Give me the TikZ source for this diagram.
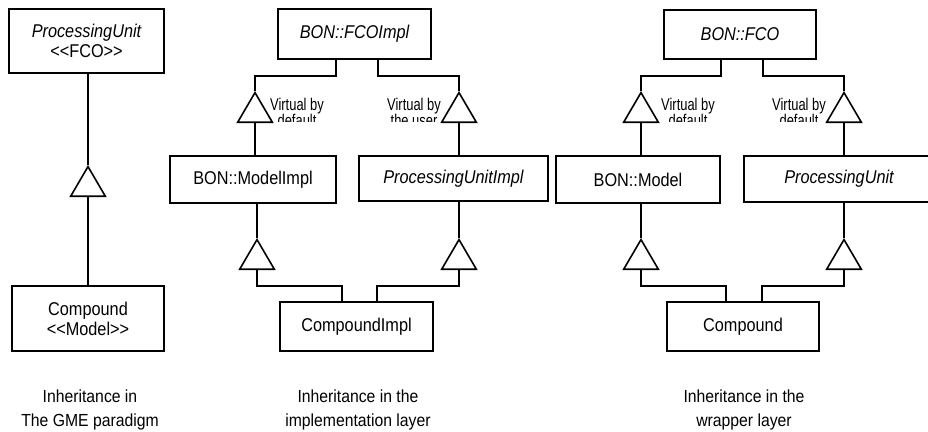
\documentclass[tikz,border=0pt]{standalone}
\usepackage{fontspec}
\setmainfont{Liberation Sans}[FakeStretch=0.88]
\newfontfamily\labfont{Liberation Sans}[FakeStretch=0.9]
\newfontfamily\virtfont{Liberation Sans}[FakeStretch=0.76]
\usetikzlibrary{arrows.meta}
\begin{document}
\begin{tikzpicture}[x=1pt,y=-1pt,line width=1.6pt,
  box/.style={draw, inner sep=0pt, align=center, font=\fontsize{18.5}{20}\selectfont},
  gen/.style={-{Triangle[open,length=32pt,width=37pt]}},
  virt/.style={align=center, inner sep=0pt, font=\virtfont\fontsize{17}{16}\selectfont},
  capt/.style={align=center, inner sep=0pt, font=\labfont\fontsize{17.5}{24}\selectfont}]
\useasboundingbox (0,0) rectangle (928,431);
\clip (0,0) rectangle (928,431);

% boxes
\node[box, minimum width=155pt, minimum height=64pt] (p1) at (86.5,41) {{\itshape ProcessingUnit}\\<{}<FCO>{}>};
\node[box, minimum width=152pt, minimum height=65pt] (c1) at (88,318.5) {Compound\\<{}<Model>{}>};
\node[box, minimum width=153pt, minimum height=50pt] (fi) at (354.5,34) {\itshape BON::FCOImpl};
\node[box, minimum width=166pt, minimum height=47pt] (mi) at (253,179.5) {BON::ModelImpl};
\node[box, minimum width=189pt, minimum height=45pt] (pi) at (453.5,178.5) {\itshape ProcessingUnitImpl};
\node[box, minimum width=153pt, minimum height=49pt] (ci) at (356.5,326.5) {CompoundImpl};
\node[box, minimum width=152pt, minimum height=49pt] (fc) at (740,34.5) {\itshape BON::FCO};
\node[box, minimum width=164pt, minimum height=47pt] (mo) at (638,179.5) {BON::Model};
\node[box, minimum width=190pt, minimum height=46pt] (pu) at (839,179) {\itshape ProcessingUnit};
\node[box, minimum width=152pt, minimum height=49pt] (c3) at (743,326.5) {Compound};

% captions
\node[capt] (l1) at (90,409.5) {Inheritance in\\The GME paradigm};
\node[capt] (l2) at (358,409.5) {Inheritance in the\\implementation layer};
\node[capt] (l3) at (744,409.5) {Inheritance in the\\wrapper layer};

% virtual labels (cut off at the bottom as in the original)
\begin{scope}
\clip (0,0) rectangle (928,121.5);
\node[virt] (v1) at (297,112) {Virtual by\\default};
\node[virt] (v2) at (414,112) {Virtual by\\the user};
\node[virt] (v3) at (688,112) {Virtual by\\default};
\node[virt] (v4) at (799,112) {Virtual by\\default};
\end{scope}

% column 1
\coordinate (a1) at (88,165);
\draw[gen] (a1 |- c1.north) -- (a1);
\draw (a1) -- (a1 |- p1.south);

% column 2
\coordinate (a2) at (255,91);
\coordinate (b2) at (257,238);
\draw[gen] (a2 |- mi.north) -- (a2);
\draw (a2) -- (255,76) -- (336,76) -- ([xshift=-18.5pt]fi.south);
\draw (b2 |- mi.south) -- (b2);
\draw[gen] ([xshift=-14.5pt]ci.north) -- (342,286) -- (257,286) -- (b2);

\coordinate (a3) at (459,91);
\coordinate (b3) at (459,238);
\draw[gen] (a3 |- pi.north) -- (a3);
\draw (a3) -- (459,76) -- (378,76) -- ([xshift=23.5pt]fi.south);
\draw (b3 |- pi.south) -- (b3);
\draw[gen] ([xshift=20.5pt]ci.north) -- (377,286) -- (459,286) -- (b3);

% column 3
\coordinate (a4) at (641,91);
\coordinate (b4) at (641,238);
\draw[gen] (a4 |- mo.north) -- (a4);
\draw (a4) -- (641,76) -- (721,76) -- ([xshift=-19pt]fc.south);
\draw (b4 |- mo.south) -- (b4);
\draw[gen] ([xshift=-17pt]c3.north) -- (726,286) -- (641,286) -- (b4);

\coordinate (a5) at (844,91);
\coordinate (b5) at (844,238);
\draw[gen] (a5 |- pu.north) -- (a5);
\draw (a5) -- (844,76) -- (763,76) -- ([xshift=23pt]fc.south);
\draw (b5 |- pu.south) -- (b5);
\draw[gen] ([xshift=19pt]c3.north) -- (762,286) -- (844,286) -- (b5);
\end{tikzpicture}
\end{document}
